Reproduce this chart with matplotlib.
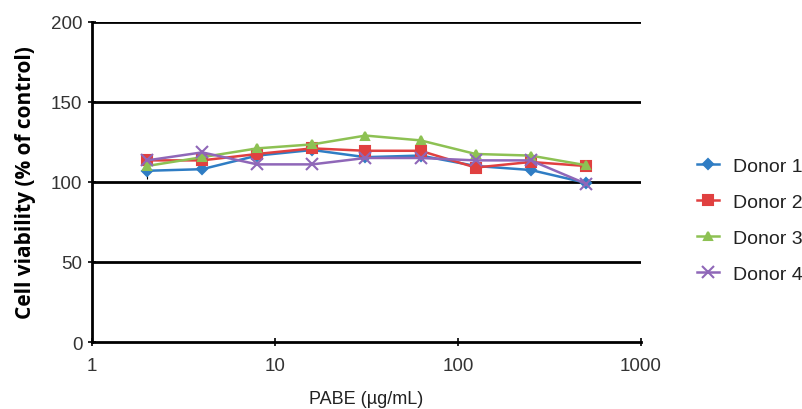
import numpy as np
import matplotlib.pyplot as plt
from matplotlib.ticker import FixedLocator, NullLocator

# concentrations (ug/mL)
conc = [2, 4, 8, 16, 31.25, 62.5, 125, 250, 500]

donor1 = [107, 108, 116.5, 120, 115.5, 116.5, 110, 107.5, 99.5]
donor2 = [113.5, 113.5, 117.5, 121, 119.5, 119.5, 109, 112.5, 110]
donor3 = [110, 115.5, 121, 123.5, 129, 126, 117.5, 116.5, 110.5]
donor4 = [113.5, 118.5, 111, 111, 115, 115, 113.5, 113.5, 99]
donor1_err = [5, 1, 1, 1, 1, 1, 2, 1, 1]

labels = ['Donor 1', 'Donor 2', 'Donor 3', 'Donor 4']
colors = ['#2f7dc4', '#e04040', '#8dc153', '#8f67b8']
markers = ['D', 's', '^', 'x']

plt.rcParams['font.family'] = ['Liberation Sans', 'DejaVu Sans']

fig = plt.figure(figsize=(8.03, 4.10), dpi=100)
ax = fig.add_axes([0.1146, 0.1634, 0.6834, 0.7806])

for y in [50, 100, 150, 200]:
    ax.axhline(y, color='black', lw=2, zorder=1)

series = [donor1, donor2, donor3, donor4]
sizes = [5, 7, 6, 8]
for i, s in enumerate(series):
    ax.plot(conc, s, color=colors[i], marker=markers[i], ms=sizes[i], lw=1.8,
            mew=1.5, label=labels[i], zorder=3)
ax.errorbar(conc, donor1, yerr=donor1_err, fmt='none', ecolor='black', lw=0.8, zorder=2)

ax.set_xscale('log')
ax.set_xlim(1, 1000)
ax.set_ylim(0, 200)
ax.xaxis.set_major_locator(FixedLocator([1, 10, 100, 1000]))
ax.xaxis.set_minor_locator(NullLocator())
ax.set_xticklabels(['1', '10', '100', '1000'])
ax.set_yticks([0, 50, 100, 150, 200])
ax.tick_params(axis='x', direction='inout', length=6, width=1.2, labelsize=13.5,
               labelcolor='#333333', pad=8)
ax.tick_params(axis='y', direction='inout', length=6, width=1.2, labelsize=13.5,
               labelcolor='#333333', pad=4)

for side in ['top', 'right']:
    ax.spines[side].set_visible(False)
for side in ['left', 'bottom']:
    ax.spines[side].set_linewidth(2)

ax.set_xlabel('PABE (\u00b5g/mL)', fontsize=13, color='#222222', labelpad=11)
ax.set_ylabel('Cell viability (% of control)', fontsize=15, fontweight='bold',
              family=['Open Sans', 'DejaVu Sans'])
ax.yaxis.set_label_coords(-0.102, 0.5)

ax.legend(loc='center left', bbox_to_anchor=(1.102, 0.381), frameon=False,
          handlelength=1.15, handletextpad=0.7, labelspacing=0.95,
          borderpad=0, borderaxespad=0, labelcolor='#222222',
          prop={'family': ['Liberation Sans', 'DejaVu Sans'], 'size': 14})

fig.savefig('out.png', dpi=100)
